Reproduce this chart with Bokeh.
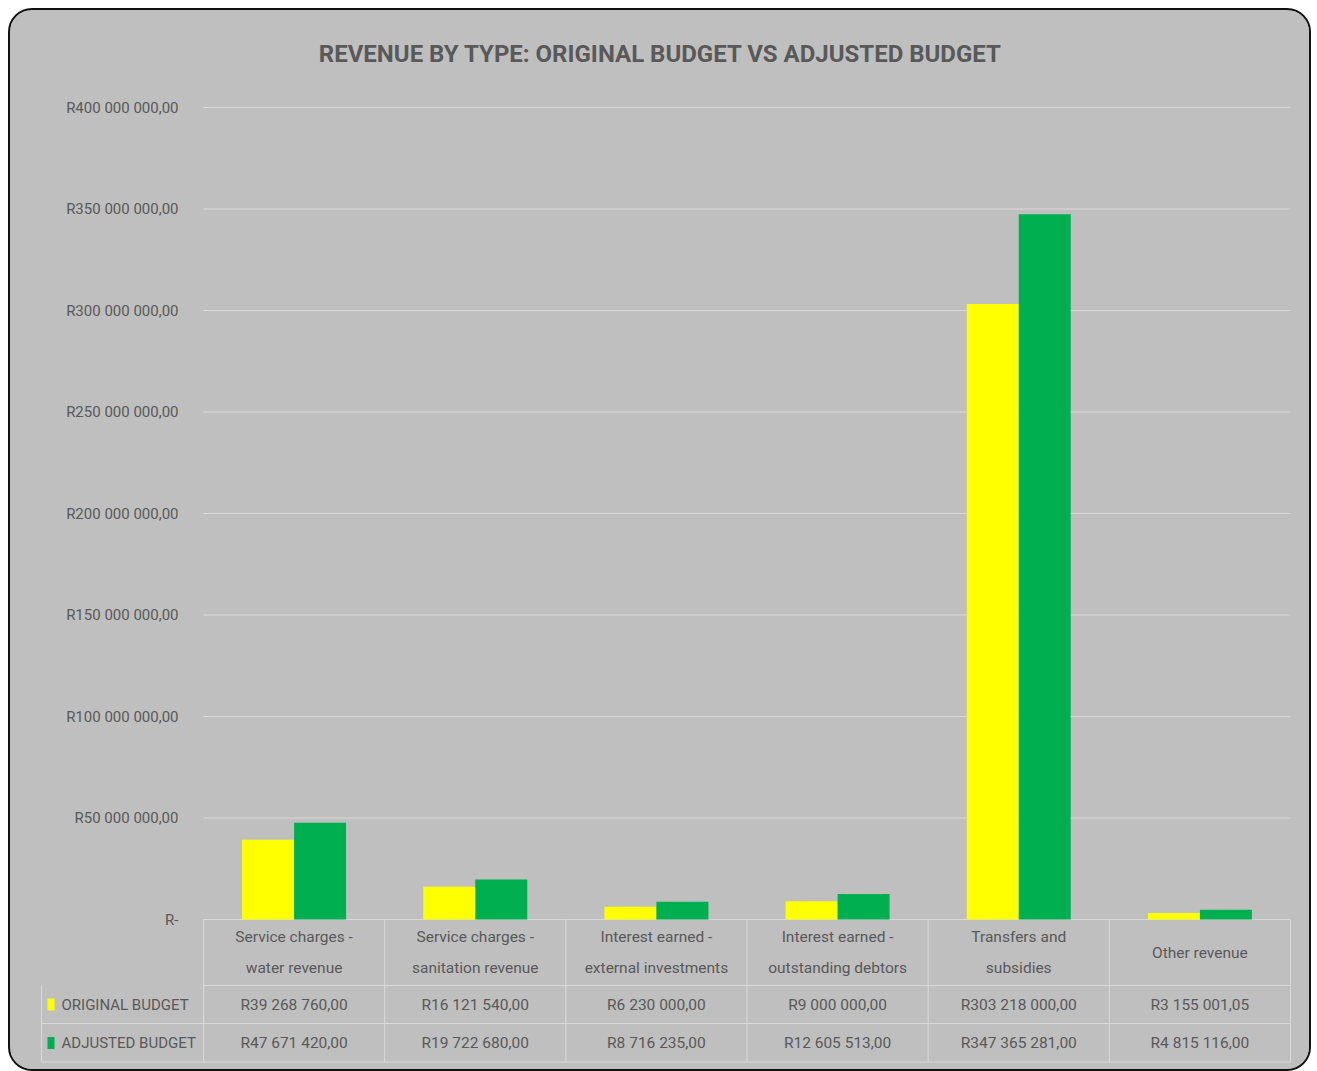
from bokeh.plotting import figure
from bokeh.models import Range1d, FixedTicker, CustomJSTickFormatter, ColumnDataSource
from bokeh.transform import dodge
from bokeh.core.properties import value
from bokeh.embed import file_html
from bokeh.resources import INLINE

# ---------------- data ----------------
categories = [
    "Service charges -\nwater revenue",
    "Service charges -\nsanitation revenue",
    "Interest earned -\nexternal investments",
    "Interest earned -\noutstanding debtors",
    "Transfers and\nsubsidies",
    "Other revenue",
]
original_budget = [39268760.00, 16121540.00, 6230000.00, 9000000.00, 303218000.00, 3155001.05]
adjusted_budget = [47671420.00, 19722680.00, 8716235.00, 12605513.00, 347365281.00, 4815116.00]
series_names = ["ORIGINAL BUDGET", "ADJUSTED BUDGET"]
y_ticks = [0, 50e6, 100e6, 150e6, 200e6, 250e6, 300e6, 350e6, 400e6]
title_text = "REVENUE BY TYPE: ORIGINAL BUDGET VS ADJUSTED BUDGET"

# ---------------- style ----------------
FONT = "Roboto"
TXT = "#595959"
BG = "#BFBFBF"
GRID = "#D9D9D9"
YELLOW = "#FFFF00"
GREEN = "#00B050"

FRAME_W = 1087          # px width of plot frame
ZERO_TO_TOP = 812       # px between zero line and top tick
TABLE_H = 143           # px of data table below zero line
HEADER_H = 66
ROW_H = [38, 39]
LEFT_COL = 162

def fmt(v):
    return "R" + f"{v:,.2f}".replace(",", " ").replace(".", ",")

n = len(categories)
xs = list(range(n))
ymax = y_ticks[-1]
ymin = -TABLE_H / ZERO_TO_TOP * ymax
x0, x1 = -0.5, n - 0.5

p = figure(width=1303, height=1063, output_backend="svg", toolbar_location=None,
           x_range=Range1d(x0, x1), y_range=Range1d(ymin, ymax),
           min_border_left=193, min_border_right=23, min_border_top=97, min_border_bottom=11,
           background_fill_color=BG, border_fill_color=BG, outline_line_color=None,
           styles={"border": "2px solid #111111", "border-radius": "24px", "overflow": "hidden",
                   "margin-left": "8px", "margin-top": "8px", "background-color": BG})
p.extra_x_ranges = {"px": Range1d(0, FRAME_W)}
p.extra_y_ranges = {"px": Range1d(-TABLE_H, ZERO_TO_TOP)}

# axes
p.xaxis.visible = False
p.yaxis.ticker = FixedTicker(ticks=y_ticks)
p.yaxis.formatter = CustomJSTickFormatter(code="""
    if (tick == 0) return "R-";
    const s = Math.round(tick).toString().replace(/\\B(?=(\\d{3})+(?!\\d))/g, " ");
    return "R" + s + ",00";
""")
p.yaxis.axis_line_color = None
p.yaxis.major_tick_line_color = None
p.yaxis.minor_tick_line_color = None
p.yaxis.major_label_standoff = 19
p.yaxis.major_label_text_font = FONT
p.yaxis.major_label_text_font_size = "15px"
p.yaxis.major_label_text_color = TXT
p.grid.visible = False

# horizontal gridlines at the y ticks (behind bars)
p.segment(x0=[x0] * len(y_ticks), y0=y_ticks, x1=[x1] * len(y_ticks), y1=y_ticks,
          line_color=GRID, line_width=1, level="overlay")

# ---------------- data table lines ----------------
row_tops = [0, -HEADER_H, -HEADER_H - ROW_H[0]]
row_bottoms = [-HEADER_H, -HEADER_H - ROW_H[0], -TABLE_H]
hx0 = [0, -LEFT_COL, -LEFT_COL]
hy = [row_bottoms[0], row_bottoms[1], row_bottoms[2] + 0.5]
p.segment(x0=hx0, y0=hy, x1=[FRAME_W] * 3, y1=hy, x_range_name="px", y_range_name="px",
          line_color=GRID, line_width=1, level="overlay")
vx = [i * FRAME_W / n for i in range(n + 1)]
p.segment(x0=vx, y0=[0] * len(vx), x1=vx, y1=[-TABLE_H] * len(vx), x_range_name="px",
          y_range_name="px", line_color=GRID, line_width=1, level="overlay")
p.segment(x0=[-LEFT_COL], y0=[-HEADER_H], x1=[-LEFT_COL], y1=[-TABLE_H], x_range_name="px",
          y_range_name="px", line_color=GRID, line_width=1, level="overlay")

# bars
src = ColumnDataSource(dict(x=xs, orig=original_budget, adj=adjusted_budget))
bw = 0.287
p.vbar(x=dodge("x", -bw / 2, range=p.x_range), top="orig", bottom=0, width=bw, source=src,
       fill_color=YELLOW, line_color=None, level="overlay")
p.vbar(x=dodge("x", bw / 2, range=p.x_range), top="adj", bottom=0, width=bw, source=src,
       fill_color=GREEN, line_color=None, level="overlay")

# title (centered on the whole chart)
p.text(x=[457], y=[866], text=[title_text], x_range_name="px", y_range_name="px",
       text_align="center", text_baseline="middle", text_font=value(FONT),
       text_font_size="24px", text_font_style="bold", text_color=TXT, level="overlay")

# header text (category names)
hdr = ColumnDataSource(dict(x=xs, y=[-HEADER_H / 2] * n, t=categories))
p.text(x="x", y="y", text="t", source=hdr, y_range_name="px", text_align="center",
       text_baseline="middle", text_font=value(FONT), text_font_size="15.5px",
       text_color=TXT, text_line_height=1.75, level="overlay")

# value rows
for r, vals in enumerate([original_budget, adjusted_budget]):
    yc = (row_tops[r + 1] + row_bottoms[r + 1]) / 2
    vs = ColumnDataSource(dict(x=xs, y=[yc] * n, t=[fmt(v) for v in vals]))
    p.text(x="x", y="y", text="t", source=vs, y_range_name="px", text_align="center",
           text_baseline="middle", text_font=value(FONT), text_font_size="15.5px",
           text_color=TXT, level="overlay")

# legend keys + series names in the left column
leg_y = [(row_tops[1] + row_bottoms[1]) / 2, (row_tops[2] + row_bottoms[2]) / 2]
p.rect(x=[-152.5, -152.5], y=leg_y, width=7, height=12, x_range_name="px", y_range_name="px",
       fill_color=[YELLOW, GREEN], line_color=None, level="overlay")
p.text(x=[-142, -142], y=leg_y, text=series_names, x_range_name="px", y_range_name="px",
       text_align="left", text_baseline="middle", text_font=value(FONT),
       text_font_size="15px", text_color=TXT, level="overlay")

open("out.html", "w").write(file_html(p, INLINE))
